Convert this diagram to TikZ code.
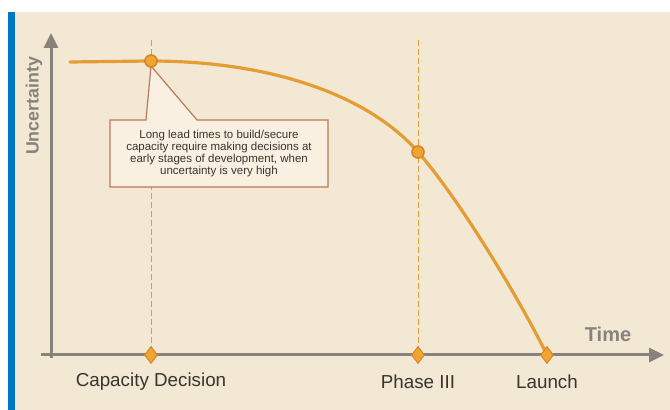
\documentclass[tikz,border=0pt]{standalone}
\usepackage{fontspec}
\setmainfont{Liberation Sans}
\usetikzlibrary{arrows.meta,shapes.geometric}

\definecolor{panel}{RGB}{243,232,212}
\definecolor{barblue}{RGB}{0,118,198}
\definecolor{curveorange}{RGB}{228,156,52}
\definecolor{markfill}{RGB}{240,165,50}
\definecolor{markedge}{RGB}{214,132,40}
\definecolor{axisgray}{RGB}{135,130,124}
\definecolor{boxfill}{RGB}{250,240,226}
\definecolor{boxedge}{RGB}{190,120,85}
\definecolor{labeltext}{RGB}{55,52,50}

\tikzset{
  dot/.style={circle, fill=markfill, draw=markedge, line width=0.8pt, minimum size=6pt, inner sep=0pt},
  milestone/.style={diamond, fill=markfill, draw=markedge, line width=0.5pt, minimum width=6.5pt, minimum height=8.5pt, inner sep=0pt},
  guide/.style={curveorange, line width=0.5pt, dash pattern=on 3pt off 1.5pt},
  axis/.style={axisgray, line width=1.5pt, -{Triangle[length=7.5pt,width=7pt]}},
  mlabel/.style={font=\fontsize{9.4}{10}\selectfont, text=labeltext}
}

\begin{document}
\begin{tikzpicture}[x=0.5pt,y=-0.5pt]
  \useasboundingbox (0,0) rectangle (670,410);
  % panel
  \fill[panel] (15,12) rectangle (670,410);
  \fill[barblue] (8,12) rectangle (15,410);

  \coordinate (xstart) at (41,355);
  \coordinate (xend) at (664,355);
  \coordinate (ystart) at (51,358);
  \coordinate (yend) at (51,33);

  % guides
  \draw[guide] (151,40) -- (151,355);
  \draw[guide] (418,40) -- (418,355);

  % axes
  \draw[axis] (xstart) -- (xend);
  \draw[axis] (ystart) -- (yend);
  \node[rotate=90, text=axisgray, font=\fontsize{8.9}{10}\selectfont\bfseries] (ylab) at (34,106) {Uncertainty};
  \node[text=axisgray, font=\fontsize{10}{11}\selectfont\bfseries] (xlab) at (608,334) {Time};

  % uncertainty curve
  \draw[curveorange, line width=1.6pt, line cap=round]
    (70,62) -- (150,61) .. controls (275,61) and (370,97) .. (418,152)
    .. controls (460,200) and (520,300) .. (547,355);

  % callout
  \filldraw[fill=boxfill, draw=boxedge, line width=0.6pt]
    (110,120) -- (146,120) -- (151,66) -- (197,120) -- (328,120) -- (328,187) -- (110,187) -- cycle;
  \node[align=center, text=labeltext, font=\fontsize{5.75}{6.1}\selectfont] (note) at (219,153.5)
    {Long lead times to build/secure\\capacity require making decisions at\\early stages of development, when\\uncertainty is very high};

  % markers
  \node[dot] (capdot) at (151,61) {};
  \node[dot] (phdot) at (418,152) {};
  \node[milestone] (cap) at (151,355) {};
  \node[milestone] (ph) at (418,355) {};
  \node[milestone] (launch) at (547,355) {};

  \node[mlabel] (caplab) at ([yshift=-13.5pt]cap.center) {Capacity Decision};
  \node[mlabel] (phlab) at ([yshift=-13.5pt]ph.center) {Phase III};
  \node[mlabel] (launchlab) at ([yshift=-13.5pt]launch.center) {Launch};
\end{tikzpicture}
\end{document}
